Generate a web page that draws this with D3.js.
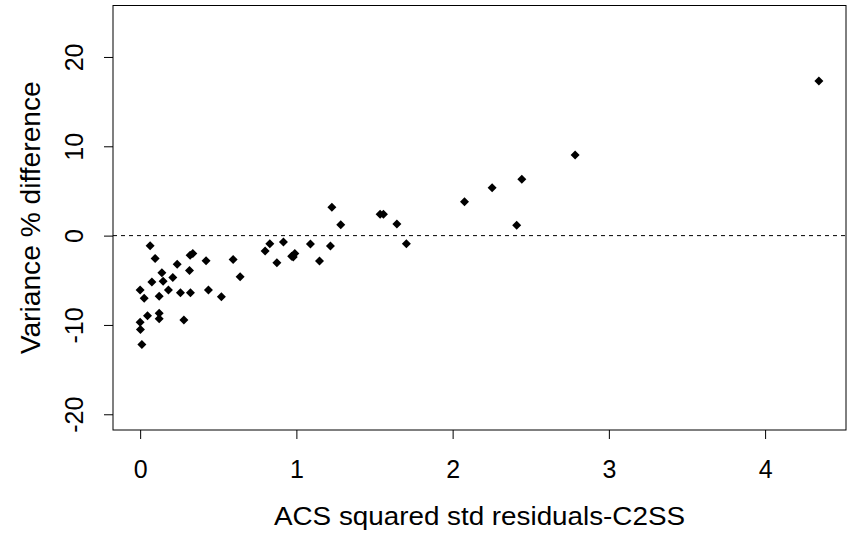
<!DOCTYPE html>
<html>
<head>
<meta charset="utf-8">
<script src="https://d3js.org/d3.v7.min.js"></script>
<style>
  body { margin: 0; background: #fff; }
  text { font-family: "Liberation Sans", Arial, sans-serif; }
</style>
</head>
<body>
<svg id="chart" width="854" height="533"></svg>
<script>
// squared std residuals (x) vs variance % difference (y)
var xVals = [0.064, 0.096, 0.0, 0.026, 0.075, 0.139, 0.147, 0.209, 0.181, 0.122,
             0.237, 0.316, 0.32, 0.337, 0.258, 0.322, 0.28, 0.422, 0.437, 0.52,
             0.595, 0.64, 0.047, 0.122, 0.122, 0.0, 0.002, 0.011, 0.80, 0.83,
             0.917, 0.875, 0.97, 0.99, 0.98, 1.09, 1.148, 1.218, 1.227, 1.284,
             1.536, 1.557, 1.643, 1.704, 2.076, 2.253, 2.443, 2.41, 2.784, 4.344]
var yVals = [-1.13, -2.55, -6.1, -7.0, -5.2, -4.15, -5.1, -4.7, -6.1, -6.8,
             -3.2, -3.9, -2.2, -2.0, -6.4, -6.4, -9.46, -2.8, -6.1, -6.85,
             -2.66, -4.6, -8.98, -8.68, -9.3, -9.7, -10.5, -12.2, -1.73, -0.9,
             -0.72, -3.03, -2.3, -2.0, -2.4, -0.94, -2.85, -1.17, 3.17, 1.22,
             2.39, 2.39, 1.3, -0.9, 3.8, 5.37, 6.3, 1.15, 9.03, 17.3]
var xTicks = [0, 1, 2, 3, 4]
var yTicks = [-20, -10, 0, 10, 20]
var xLabel = "ACS squared std residuals-C2SS"
var yLabel = "Variance % difference"

var points = xVals.map((x, i) => ({x: x, y: yVals[i]}))

var svg = d3.select("#chart"),
    margin = {top: 5.5, left: 113, bottom: 103, right: 8},
    width = +svg.attr("width"),
    height = +svg.attr("height");

// R style: limits padded by 4%
var xlim = [0, 4.344], ylim = [-20, 24]
var xpad = (xlim[1] - xlim[0]) * 0.04, ypad = (ylim[1] - ylim[0]) * 0.04

var x = d3.scaleLinear()
    .domain([xlim[0] - xpad, xlim[1] + xpad])
    .range([margin.left, width - margin.right])

var y = d3.scaleLinear()
    .domain([ylim[0] - ypad, ylim[1] + ypad])
    .range([height - margin.bottom, margin.top])

var xAxis = svg.append("g")
    .attr("transform", `translate(0, ${height - margin.bottom})`)
    .call(d3.axisBottom(x).tickValues(xTicks).tickSize(9).tickFormat(d => String(d)))

var yAxis = svg.append("g")
    .attr("transform", `translate(${margin.left},0)`)
    .call(d3.axisLeft(y).tickValues(yTicks).tickSize(9).tickFormat(d => String(d)))

svg.selectAll(".domain").remove()
svg.selectAll(".tick line").attr("stroke", "#000")
svg.selectAll(".tick text").attr("fill", "#000").style("font-size", "25px")

xAxis.selectAll(".tick text").attr("y", 48).attr("dy", 0)

yAxis.selectAll(".tick text")
    .attr("text-anchor", "middle")
    .attr("x", 0).attr("y", 0).attr("dy", 0)
    .attr("transform", `translate(${83 - margin.left},0) rotate(-90)`)

// plot box
svg.append("rect")
    .attr("x", margin.left)
    .attr("y", margin.top)
    .attr("width", width - margin.right - margin.left)
    .attr("height", height - margin.bottom - margin.top)
    .attr("fill", "none")
    .attr("stroke", "#000")
    .attr("stroke-width", 1)

// reference line at zero
svg.append("line")
    .attr("x1", margin.left).attr("x2", width - margin.right)
    .attr("y1", y(0)).attr("y2", y(0))
    .attr("stroke", "#000")
    .attr("stroke-dasharray", "4,4")

svg.append("g").selectAll("path")
    .data(points)
    .enter()
    .append("path")
    .attr("transform", d => `translate(${x(d.x)},${y(d.y)})`)
    .attr("d", "M0,-4.5L4.5,0L0,4.5L-4.5,0Z")
    .attr("fill", "#000")

svg.append("text")
    .attr("x", (margin.left + width - margin.right) / 2)
    .attr("y", 525)
    .attr("text-anchor", "middle")
    .attr("textLength", 411)
    .attr("lengthAdjust", "spacingAndGlyphs")
    .style("font-size", "25px")
    .text(xLabel)

svg.append("text")
    .attr("transform", `translate(40, ${(margin.top + height - margin.bottom) / 2}) rotate(-90)`)
    .attr("text-anchor", "middle")
    .attr("textLength", 273)
    .attr("lengthAdjust", "spacingAndGlyphs")
    .style("font-size", "27px")
    .text(yLabel)
</script>
</body>
</html>
